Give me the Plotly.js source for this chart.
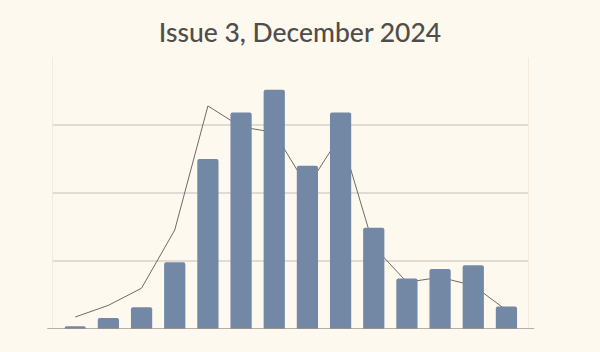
<!DOCTYPE html>
<html>
<head>
<meta charset="utf-8">
<script src="https://cdn.plot.ly/plotly-3.0.1.min.js"></script>
<style>html,body{margin:0;padding:0;background:#fef9ef;}</style>
</head>
<body>
<div id="chart" style="width:600px;height:352px;"></div>
<script>
const categories = ["1","2","3","4","5","6","7","8","9","10","11","12","13","14"];
const barValues = [1, 4, 8, 24.5, 62.5, 79.6, 88, 60, 79.6, 37.2, 18.6, 22.1, 23.4, 8.3];
const lineValues = [4.4, 8.7, 15, 36.4, 82, 74.3, 72.3, 52.2, 71.2, 30.3, 17.2, 19, 16, 6.9];
const titleText = "Issue 3, December 2024";

const traces = [
  {
    type: "scatter", mode: "lines", x: categories, y: lineValues,
    xaxis: "x", yaxis: "y",
    line: {color: "#6e6a66", width: 1}, hoverinfo: "skip", showlegend: false
  },
  {
    type: "bar", x: categories, y: barValues,
    xaxis: "x", yaxis: "y2",
    marker: {color: "#7388a5", line: {width: 0}}, showlegend: false
  }
];

const layout = {
  width: 600, height: 352,
  margin: {l: 53, r: 72, t: 57, b: 23},
  paper_bgcolor: "#fef9ef",
  plot_bgcolor: "#fef9ef",
  title: {text: titleText, x: 0.5, xanchor: "center", y: 0.908, yanchor: "middle",
          font: {family: "Lato, 'Open Sans', sans-serif", size: 26.5, weight: 500, color: "#504e4b"}},
  bargap: 0.36,
  barcornerradius: 2,
  xaxis: {type: "category", range: [-0.67, 13.65], showgrid: false, showticklabels: false,
          ticks: "", showline: false, zeroline: false, fixedrange: true},
  yaxis: {range: [0, 100], dtick: 25, showgrid: true, gridcolor: "#e0dcd5", gridwidth: 1.5,
          showticklabels: false, ticks: "", zeroline: false,
          showline: true, mirror: true, linecolor: "#f4ebdd", linewidth: 1},
  yaxis2: {range: [0, 100], overlaying: "y", showgrid: false, showticklabels: false,
           ticks: "", zeroline: false, showline: false},
  shapes: [
    {type: "line", xref: "paper", yref: "y", x0: -0.012, x1: 1.013, y0: 0, y1: 0,
     line: {color: "#9a9690", width: 1.3}}
  ]
};

Plotly.newPlot("chart", traces, layout, {displayModeBar: false, staticPlot: true});
</script>
</body>
</html>
